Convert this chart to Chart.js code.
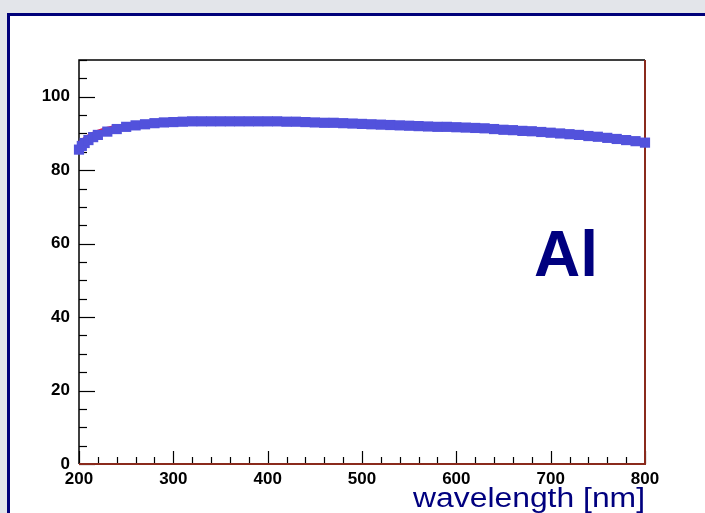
<!DOCTYPE html>
<html>
<head>
<meta charset="utf-8">
<script src="https://cdn.jsdelivr.net/npm/chart.js@4/dist/chart.umd.min.js"></script>
<style>
  html, body { margin: 0; padding: 0; width: 705px; height: 513px; overflow: hidden; background: #e3e5ea; }
  #panel { position: absolute; left: 7px; top: 13px; width: 720px; height: 520px;
           border-left: 3px solid #00007a; border-top: 3px solid #00007a; background: #fff; }
  #chart { position: absolute; left: 0; top: 0; }
</style>
</head>
<body>
<div id="panel"></div>
<canvas id="chart" width="705" height="513"></canvas>
<script>
// reflectance of Al vs wavelength
const wavelength = [200, 203, 206, 210, 215, 220, 230, 240, 250, 260, 270, 280, 290,
                    300, 310, 320, 330, 340, 350, 360, 370, 380, 390,
                    400, 410, 420, 430, 440, 450, 460, 470, 480, 490,
                    500, 510, 520, 530, 540, 550, 560, 570, 580, 590,
                    600, 610, 620, 630, 640, 650, 660, 670, 680, 690,
                    700, 710, 720, 730, 740, 750, 760, 770, 780, 790, 800];
const reflectance = [85.6, 86.6, 87.4, 88.2, 89.0, 89.6, 90.5, 91.2, 91.8, 92.2, 92.5, 92.8, 93.0,
                     93.1, 93.2, 93.3, 93.3, 93.3, 93.3, 93.3, 93.3, 93.3, 93.3,
                     93.3, 93.3, 93.2, 93.2, 93.1, 93.0, 92.9, 92.9, 92.8, 92.7,
                     92.6, 92.5, 92.4, 92.3, 92.2, 92.1, 92.0, 91.9, 91.8, 91.8,
                     91.7, 91.6, 91.5, 91.4, 91.2, 91.0, 90.9, 90.7, 90.6, 90.4,
                     90.2, 90.0, 89.8, 89.6, 89.3, 89.1, 88.8, 88.5, 88.2, 87.9, 87.5];

// red curve
const fitX = [200, 210, 220, 230, 240, 260, 300, 400, 500, 600, 700, 800];
const fitY = [87.6, 89.5, 90.7, 91.5, 92.0, 92.6, 93.2, 93.3, 92.6, 91.7, 90.2, 87.5];

const xTicks = [200, 300, 400, 500, 600, 700, 800];
const yTicks = [0, 20, 40, 60, 80, 100];

const tickFont = { family: 'Liberation Sans', weight: 'bold', size: 17 };

const framePlugin = {
    id: 'frame',
    beforeDatasetsDraw(chart) {
        const ctx = chart.ctx;
        const a = chart.chartArea;
        const xs = chart.scales.x, ys = chart.scales.y;
        ctx.save();
        ctx.lineWidth = 1.2;
        ctx.strokeStyle = '#000';
        // y ticks, pointing inside
        for (let v = 0; v <= 110; v += 5) {
            const py = Math.round(ys.getPixelForValue(v)) + 0.5;
            const len = v % 20 === 0 ? 16 : 8;
            ctx.beginPath(); ctx.moveTo(a.left, py); ctx.lineTo(a.left + len, py); ctx.stroke();
        }
        // x ticks, pointing up
        for (let v = 200; v <= 800; v += 20) {
            const px = Math.round(xs.getPixelForValue(v)) + 0.5;
            const len = v % 100 === 0 ? 13 : 7;
            ctx.beginPath(); ctx.moveTo(px, a.bottom); ctx.lineTo(px, a.bottom - len); ctx.stroke();
        }
        // frame
        ctx.lineWidth = 1.5;
        ctx.beginPath(); ctx.moveTo(a.left, a.bottom); ctx.lineTo(a.left, a.top); ctx.lineTo(a.right, a.top); ctx.stroke();
        ctx.strokeStyle = '#8a2a1c';
        ctx.lineWidth = 2;
        ctx.beginPath(); ctx.moveTo(a.left, a.bottom); ctx.lineTo(a.right, a.bottom); ctx.lineTo(a.right, a.top); ctx.stroke();
        ctx.restore();
    },
    afterDraw(chart) {
        const ctx = chart.ctx;
        ctx.save();
        ctx.fillStyle = '#00007f';
        ctx.font = 'bold 64px "Liberation Sans"';
        ctx.textAlign = 'left';
        ctx.textBaseline = 'alphabetic';
        ctx.fillText('Al', 534, 276);

        ctx.font = '27px "Liberation Sans"';
        const label = 'wavelength [nm]';
        const w = ctx.measureText(label).width;
        ctx.translate(413, 507);
        ctx.scale(232 / w, 1);
        ctx.fillText(label, 0, 0);
        ctx.restore();
    }
};

new Chart(document.getElementById('chart').getContext('2d'), {
    type: 'scatter',
    data: {
        datasets: [{
            label: 'fit',
            type: 'line',
            data: fitX.map((x, i) => ({ x: x, y: fitY[i] })),
            borderColor: '#e0205a',
            borderWidth: 2.5,
            pointRadius: 0,
            cubicInterpolationMode: 'monotone',
            fill: false,
            clip: false,
            order: 2
        }, {
            label: 'Al',
            data: wavelength.map((x, i) => ({ x: x, y: reflectance[i] })),
            pointStyle: 'rect',
            pointRadius: 7.2,
            backgroundColor: '#5252dc',
            borderColor: '#5252dc',
            borderWidth: 0,
            clip: false,
            order: 1
        }]
    },
    options: {
        responsive: false,
        animation: false,
        layout: { padding: { top: 60, right: 60, left: 0, bottom: 0 } },
        plugins: { legend: { display: false }, tooltip: { enabled: false } },
        scales: {
            x: {
                type: 'linear',
                min: 200,
                max: 800,
                afterBuildTicks: s => { s.ticks = xTicks.map(v => ({ value: v })); },
                afterFit: s => { s.height = 49; },
                grid: { display: false, drawTicks: false },
                border: { display: false },
                ticks: { font: tickFont, color: '#000', padding: 5, maxRotation: 0, autoSkip: false }
            },
            y: {
                type: 'linear',
                min: 0,
                max: 110,
                afterBuildTicks: s => { s.ticks = yTicks.map(v => ({ value: v })); },
                afterFit: s => { s.width = 79; },
                grid: { display: false, drawTicks: false },
                border: { display: false },
                ticks: { font: tickFont, color: '#000', padding: 9, autoSkip: false }
            }
        }
    },
    plugins: [framePlugin]
});
</script>
</body>
</html>
